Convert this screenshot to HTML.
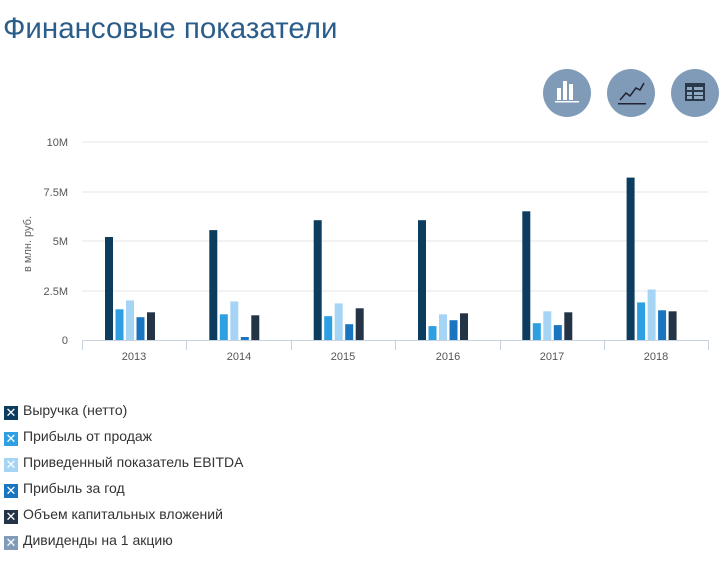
<!DOCTYPE html><html><head><meta charset="utf-8"><style>
body{margin:0;width:728px;height:567px;background:#fff;font-family:"Liberation Sans",sans-serif;overflow:hidden;position:relative}
.t{position:absolute;left:3px;top:12px;font-size:29.5px;color:#2b5d8a}
.lg{position:absolute;left:4px;font-size:14px;color:#333;height:16px;line-height:16px}
.lg span{display:inline-block;width:14px;height:14px;vertical-align:-2px;margin-right:5px;color:#fff;font-size:13px;line-height:14px;text-align:center}
</style></head><body>
<div class="t">Финансовые показатели</div>
<svg width="728" height="567" style="position:absolute;left:0;top:0">
<g fill="#7f9bb8"><circle cx="567" cy="93" r="24"/><circle cx="631" cy="93" r="24"/><circle cx="695" cy="93" r="24"/></g>
<g fill="#fff"><rect x="557" y="88" width="4" height="12"/><rect x="563" y="81" width="4" height="19"/><rect x="569" y="84" width="4" height="16"/><rect x="555" y="101" width="24" height="1.5"/></g>
<polyline points="620,100 626,93 630,96 636,88 640,90 644,83" fill="none" stroke="#223" stroke-width="1.5"/><rect x="618" y="103" width="28" height="1.5" fill="#223"/>
<rect x="685" y="83" width="20" height="18" fill="#2a3a4a"/><g fill="#8fa9c2"><rect x="687" y="87" width="5" height="3"/><rect x="694" y="87" width="9" height="3"/><rect x="687" y="92" width="5" height="3"/><rect x="694" y="92" width="9" height="3"/><rect x="687" y="96" width="5" height="3"/><rect x="694" y="96" width="9" height="3"/></g>
<g stroke="#e6e6e6"><line x1="82" y1="142" x2="708" y2="142"/><line x1="82" y1="192" x2="708" y2="192"/><line x1="82" y1="241" x2="708" y2="241"/><line x1="82" y1="291" x2="708" y2="291"/></g>
<line x1="82" y1="340.5" x2="708" y2="340.5" stroke="#c8d3df"/>
<g stroke="#c8d3df"><line x1="82.5" y1="340" x2="82.5" y2="350"/><line x1="186.5" y1="340" x2="186.5" y2="350"/><line x1="291.5" y1="340" x2="291.5" y2="350"/><line x1="395.5" y1="340" x2="395.5" y2="350"/><line x1="500.5" y1="340" x2="500.5" y2="350"/><line x1="604.5" y1="340" x2="604.5" y2="350"/><line x1="708.5" y1="340" x2="708.5" y2="350"/></g>
<g font-size="11" fill="#555" text-anchor="end"><text x="68" y="146">10M</text><text x="68" y="196">7.5M</text><text x="68" y="245">5M</text><text x="68" y="295">2.5M</text><text x="68" y="344">0</text></g>
<text transform="translate(31,244) rotate(-90)" font-size="11" fill="#666" text-anchor="middle">в млн. руб.</text>
<g font-size="11" fill="#555" text-anchor="middle"><text x="134" y="360">2013</text><text x="239" y="360">2014</text><text x="343" y="360">2015</text><text x="448" y="360">2016</text><text x="552" y="360">2017</text><text x="656" y="360">2018</text></g>
<g id="bars"></g>
</svg>
<div class="lg" style="top:402px"><span style="background:#0d3d5e">✕</span>Выручка (нетто)</div>
<div class="lg" style="top:428px"><span style="background:#2e9fe0">✕</span>Прибыль от продаж</div>
<div class="lg" style="top:454px"><span style="background:#a6d4f5">✕</span>Приведенный показатель EBITDA</div>
<div class="lg" style="top:480px"><span style="background:#1a75c0">✕</span>Прибыль за год</div>
<div class="lg" style="top:506px"><span style="background:#243447">✕</span>Объем капитальных вложений</div>
<div class="lg" style="top:532px"><span style="background:#7f9bb8">✕</span>Дивиденды на 1 акцию</div>
<script>
var d=[[5.2,1.55,2.0,1.15,1.4],[5.55,1.3,1.95,0.15,1.25],[6.05,1.2,1.85,0.8,1.6],[6.05,0.7,1.3,1.0,1.35],[6.5,0.85,1.45,0.75,1.4],[8.2,1.9,2.55,1.5,1.45]];
var c=["#0d3d5e","#2e9fe0","#a6d4f5","#1a75c0","#243447"];var s="";
for(var i=0;i<6;i++)for(var j=0;j<5;j++){var h=d[i][j]*19.8;var x=82+i*104.33+23+j*10.5;s+='<rect x="'+x.toFixed(1)+'" y="'+(340-h).toFixed(1)+'" width="8" height="'+h.toFixed(1)+'" fill="'+c[j]+'"/>';}
document.getElementById("bars").innerHTML=s;
</script>
</body></html>
